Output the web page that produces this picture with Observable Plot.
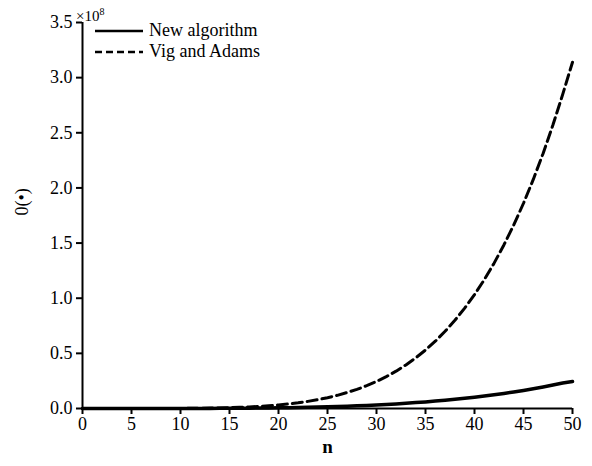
<!DOCTYPE html>
<html>
<head>
<meta charset="utf-8">
<script src="https://cdn.jsdelivr.net/npm/d3@7"></script>
<script src="https://cdn.jsdelivr.net/npm/@observablehq/plot@0.6"></script>
<style>
  html, body { margin: 0; padding: 0; background: #fff; }
  #wrap { position: relative; width: 592px; height: 466px; font-family: "Liberation Serif", "Times New Roman", serif; }
  #wrap svg { display: block; }
  .legend { position: absolute; left: 94px; top: 20px; font-size: 18px; line-height: 21px; color: #000; }
  .legend div { display: flex; align-items: center; white-space: nowrap; height: 21px; }
  .legend svg { margin-right: 5px; }
  .exp { position: absolute; left: 76px; top: 3px; font-size: 15px; line-height: 18px; color: #000; }
  .exp sup { font-size: 10px; vertical-align: 6px; }
</style>
</head>
<body>
<div id="wrap"></div>
<script>
// Values in units of 1e8
const nValues = [0,1,2,3,4,5,6,7,8,9,10,11,12,13,14,15,16,17,18,19,20,21,22,23,24,25,26,27,28,29,30,31,32,33,34,35,36,37,38,39,40,41,42,43,44,45,46,47,48,49,50];
const newAlgorithm = [0,0,0,0,0,0,0.0001,0.0001,0.0002,0.0003,0.0004,0.0006,0.0008,0.0011,0.0015,0.002,0.0026,0.0033,0.0042,0.0052,0.0064,0.0078,0.0094,0.0112,0.0133,0.0156,0.0183,0.0213,0.0246,0.0283,0.0324,0.0369,0.0419,0.0474,0.0535,0.06,0.0672,0.075,0.0834,0.0925,0.1024,0.113,0.1245,0.1368,0.1499,0.164,0.1791,0.1952,0.2123,0.2306,0.245];
const vigAdams = [0,0,0,0,0,0,0.0001,0.0002,0.0003,0.0006,0.001,0.0016,0.0025,0.0037,0.0054,0.0076,0.0105,0.0142,0.0189,0.0248,0.032,0.0408,0.0515,0.0645,0.0798,0.098,0.1195,0.1445,0.1735,0.207,0.245,0.289,0.3385,0.395,0.4585,0.53,0.61,0.7,0.8,0.91,1.033,1.168,1.318,1.483,1.663,1.861,2.077,2.313,2.57,2.848,3.14];
const xTicks = [0,5,10,15,20,25,30,35,40,45,50];
const yTicks = [0,0.5,1.0,1.5,2.0,2.5,3.0,3.5];
const seriesNames = ["New algorithm", "Vig and Adams"];
const yLabel = "0(\u2022)";
const xLabel = "n";

const rows = [];
nValues.forEach((n, i) => {
  rows.push({n, v: newAlgorithm[i], s: seriesNames[0]});
  rows.push({n, v: vigAdams[i], s: seriesNames[1]});
});

const chart = Plot.plot({
  width: 592,
  height: 466,
  marginLeft: 82,
  marginRight: 20,
  marginTop: 22,
  marginBottom: 58,
  style: { fontFamily: "Liberation Serif, Times New Roman, serif", fontSize: "18px", color: "#000", background: "#fff" },
  x: { domain: [0, 50] },
  y: { domain: [0, 3.5] },
  marks: [
    Plot.line(rows.filter(d => d.s === seriesNames[0]), { x: "n", y: "v", stroke: "#000", strokeWidth: 3.5 }),
    Plot.line(rows.filter(d => d.s === seriesNames[1]), { x: "n", y: "v", stroke: "#000", strokeWidth: 3, strokeDasharray: "10,5" }),
    Plot.ruleX([0], { stroke: "#000", strokeWidth: 2 }),
    Plot.ruleY([0], { stroke: "#000", strokeWidth: 2 }),
    Plot.axisX(xTicks, { ticks: xTicks, tickSize: 6, tickPadding: 3, strokeWidth: 2, fontSize: 18, tickFormat: d => String(d), label: null }),
    Plot.axisY(yTicks, { ticks: yTicks, tickSize: 6, tickPadding: 4, strokeWidth: 2, fontSize: 18, tickFormat: d => d.toFixed(1), label: null }),
    Plot.text([xLabel], { frameAnchor: "bottom", dy: 44, text: d => d, fontSize: 19, fontWeight: "bold", fill: "#000" }),
    Plot.text([yLabel], { frameAnchor: "left", dx: -60, dy: 0, text: d => d, rotate: -90, fontSize: 18, fill: "#000" })
  ]
});

const wrap = document.getElementById("wrap");
wrap.appendChild(chart);

const exp = document.createElement("div");
exp.className = "exp";
exp.innerHTML = "\u00d710<sup>8</sup>";
wrap.appendChild(exp);

const legend = document.createElement("div");
legend.className = "legend";
const dashes = ["", "7,4"];
seriesNames.forEach((name, i) => {
  const row = document.createElement("div");
  row.innerHTML = `<svg width="50" height="10"><line x1="1" x2="49" y1="5" y2="5" stroke="#000" stroke-width="2.5" ${dashes[i] ? `stroke-dasharray="${dashes[i]}"` : ""}/></svg><span>${name}</span>`;
  legend.appendChild(row);
});
wrap.appendChild(legend);
</script>
</body>
</html>
